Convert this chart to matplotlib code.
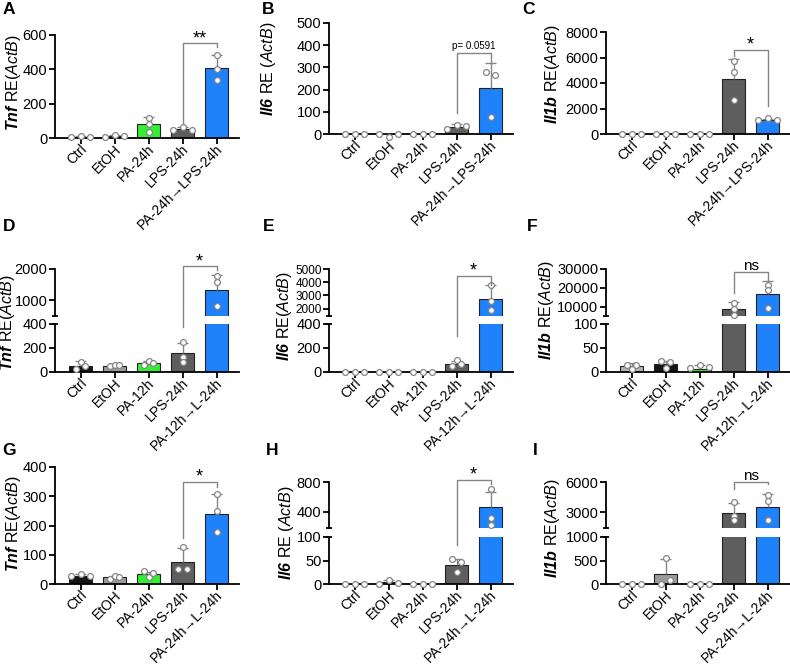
import numpy as np
import matplotlib
matplotlib.use('Agg')
import matplotlib.pyplot as plt
import matplotlib.transforms as mtransforms
from matplotlib.lines import Line2D

plt.rcParams['font.family'] = ['Liberation Sans', 'DejaVu Sans']
plt.rcParams['mathtext.fontset'] = 'custom'
plt.rcParams['mathtext.rm'] = 'Liberation Sans'
plt.rcParams['mathtext.it'] = 'Liberation Sans:italic'
plt.rcParams['mathtext.bf'] = 'Liberation Sans:bold'
plt.rcParams['mathtext.bfit'] = 'Liberation Sans:bold:italic'

W, H = 790, 665

# category labels
groups_24 = ['Ctrl', 'EtOH', 'PA-24h', 'LPS-24h', 'PA-24h→LPS-24h']
groups_12 = ['Ctrl', 'EtOH', 'PA-12h', 'LPS-24h', 'PA-12h→L-24h']
groups_24l = ['Ctrl', 'EtOH', 'PA-24h', 'LPS-24h', 'PA-24h→L-24h']

# A - Tnf, PA 24h
tnf_a_mean = [7, 12, 80, 50, 406]
tnf_a_sd = [2, 4, 40, 15, 75]
tnf_a_pts = [[6, 9, 7], [8, 18, 9], [116, 81, 37], [45, 62, 45], [482, 402, 335]]
# B - Il6, PA 24h
il6_b_mean = [0.5, 0.5, 0.5, 33, 205]
il6_b_sd = [0.3, 0.5, 0.3, 12, 115]
il6_b_pts = [[0, 0, 0], [0, -14, 0], [0, 0, 0], [23, 40, 38], [278, 75, 267]]
# C - Il1b, PA 24h
il1b_c_mean = [2, 2, 2, 4350, 1120]
il1b_c_sd = [1, 1, 1, 1550, 80]
il1b_c_pts = [[0, 0, 0], [0, 0, 0], [0, 0, 0], [5700, 4900, 2700], [1070, 1230, 1070]]
# D - Tnf, PA 12h
tnf_d_mean = [50, 52, 75, 155, 1340]
tnf_d_sd = [40, 14, 20, 86, 480]
tnf_d_pts = [[25, 85, 50], [48, 62, 57], [57, 90, 77], [252, 128, 85], [1770, 1575, 810]]
# E - Il6, PA 12h
il6_e_mean = [1, 1, 1, 68, 2700]
il6_e_sd = [0.5, 0.5, 0.5, 22, 1100]
il6_e_pts = [[0, 0, 0], [0, 0, 0], [0, 0, 0], [48, 99, 68], [3825, 2575, 1900]]
# F - Il1b, PA 12h
il1b_f_mean = [12, 16, 7, 8600, 16800]
il1b_f_sd = [6, 7, 7, 3860, 6700]
il1b_f_pts = [[14, 7, 14], [23, 8.5, 20.6], [8.5, 14, 10], [12100, 8600, 5400], [21400, 18800, 9500]]
# G - Tnf, PA 24h then LPS
tnf_g_mean = [29, 24, 34, 75, 239]
tnf_g_sd = [5, 5, 6, 47, 68]
tnf_g_pts = [[26, 35, 26], [17, 29, 25], [45, 23, 37], [51, 128, 51], [307, 250, 177]]
# H - Il6, PA 24h then LPS
il6_h_mean = [0.3, 4, 0.3, 40, 460]
il6_h_sd = [0.2, 4, 0.2, 14, 210]
il6_h_pts = [[0, 0, 0], [0, 9, 2], [0, 0, 0], [54, 25, 47], [710, 310, 220]]
# I - Il1b, PA 24h then LPS
il1b_i_mean = [5, 220, 3, 2900, 3550]
il1b_i_sd = [5, 305, 2, 980, 1300]
il1b_i_pts = [[0, 10, 5], [0, 560, 92], [0, 0, 0], [3980, 2576, 2152], [4700, 4110, 2185]]

BLACK, GRAY, LGRAY = '#141414', '#9b9b9b', '#b3b3b3'
GREEN, DGRAY, BLUE = '#33ee33', '#5e5e5e', '#1f82fb'
EC = '#858585'
cols = [BLACK, GRAY, GREEN, DGRAY, BLUE]
cols_f = [LGRAY, BLACK, GREEN, DGRAY, BLUE]

panels = [
    dict(letter='A', lpos=(3, 2), gene='Tnf', sp=False, lab=(14, 82), groups=groups_24,
         mean=tnf_a_mean, sd=tnf_a_sd, pts=tnf_a_pts, colors=cols, x0=55,
         segs=[((35, 138), (0, 600), [0, 200, 400, 600])], spread=[2, 2, 0, 2, 0],
         br=(551, 87, 532, '**', 13, 0)),
    dict(letter='B', lpos=(262, 2), gene='Il6', sp=True, lab=(269, 69), groups=groups_24,
         mean=il6_b_mean, sd=il6_b_sd, pts=il6_b_pts, colors=cols, x0=329,
         segs=[((23, 134), (0, 500), [0, 100, 200, 300, 400, 500])], spread=[2, 2, 2, 2, 1],
         br=(365, 95, 320, 'p= 0.0591', 7, 4)),
    dict(letter='C', lpos=(522, 2), gene='Il1b', sp=False, lab=(552, 74), groups=groups_24,
         mean=il1b_c_mean, sd=il1b_c_sd, pts=il1b_c_pts, colors=cols, x0=606,
         segs=[((32, 134), (0, 8000), [0, 2000, 4000, 6000, 8000])], spread=[2, 2, 2, 0, 2],
         br=(6615, 6090, 2170, '*', 13, 0)),
    dict(letter='D', lpos=(3, 219), gene='Tnf', sp=False, lab=(8, 322), groups=groups_12,
         mean=tnf_d_mean, sd=tnf_d_sd, pts=tnf_d_pts, colors=cols, x0=55,
         segs=[((324, 372), (0, 400), [0, 200, 400]), ((269, 316), (500, 2000), [1000, 2000])],
         spread=[1, 1, 1, 0, 0], br=(2085, 374, 1960, '*', 13, 0)),
    dict(letter='E', lpos=(263, 219), gene='Il6', sp=False, lab=(284, 316), groups=groups_12,
         mean=il6_e_mean, sd=il6_e_sd, pts=il6_e_pts, colors=cols, x0=329,
         segs=[((324, 372), (0, 400), [0, 200, 400]), ((269, 316), (1450, 5000), [2000, 3000, 4000, 5000])],
         spread=[2, 2, 2, 1, 0], br=(4500, 303, 3825, '*', 13, 0), small_upper=True),
    dict(letter='F', lpos=(527, 219), gene='Il1b', sp=False, lab=(546, 310), groups=groups_12,
         mean=il1b_f_mean, sd=il1b_f_sd, pts=il1b_f_pts, colors=cols_f, x0=606,
         segs=[((324, 372), (0, 100), [0, 50, 100]), ((269, 316), (5000, 30000), [10000, 20000, 30000])],
         spread=[1, 1, 2, 0, 0], br=(28400, 17000, 23500, 'ns', 11, 2)),
    dict(letter='G', lpos=(2, 443), gene='Tnf', sp=False, lab=(14, 523), groups=groups_24l,
         mean=tnf_g_mean, sd=tnf_g_sd, pts=tnf_g_pts, colors=cols, x0=55,
         segs=[((467, 584), (0, 400), [0, 100, 200, 300, 400])], spread=[2, 1, 1, 1, 0],
         br=(349, 156, 332, '*', 13, 0)),
    dict(letter='H', lpos=(266, 443), gene='Il6', sp=True, lab=(287, 533), groups=groups_24l,
         mean=il6_h_mean, sd=il6_h_sd, pts=il6_h_pts, colors=cols, x0=329,
         segs=[((537, 584), (0, 100), [0, 50, 100]), ((482, 528), (180, 800), [400, 800])],
         spread=[2, 2, 2, 1, 0], br=(831, 82, 778, '*', 13, 0)),
    dict(letter='I', lpos=(533, 443), gene='Il1b', sp=False, lab=(552, 528), groups=groups_24l,
         mean=il1b_i_mean, sd=il1b_i_sd, pts=il1b_i_pts, colors=cols, x0=606,
         segs=[((537, 584), (0, 1000), [0, 500, 1000]), ((482, 528), (1400, 6000), [3000, 6000])],
         spread=[2, 1, 2, 0, 0], br=(6000, 5350, 5840, 'ns', 11, 2)),
]

fig = plt.figure(figsize=(W / 100, H / 100), dpi=100)
AXW = 184
XLIM = (-0.75, 4.66)
x = np.arange(5)
OFF = {0: [0, 0, 0], 1: [-0.13, 0, 0.13], 2: [-0.27, 0, 0.27]}
# small rightward shift of the rotated category labels, in inches
label_shift = mtransforms.ScaledTranslation(4 / 100, 0, fig.dpi_scale_trans)


def add_ax(x0, ytop, ybot):
    return fig.add_axes([x0 / W, 1 - ybot / H, AXW / W, (ybot - ytop) / H])


for p in panels:
    axes = []
    n = len(p['segs'])
    for i, ((yt, yb), lim, ticks) in enumerate(p['segs']):
        ax = add_ax(p['x0'], yt, yb)
        ax.set_xlim(*XLIM)
        ax.set_ylim(*lim)
        ax.set_yticks(ticks)
        ax.set_yticklabels([str(t) for t in ticks])
        for s in ['top', 'right']:
            ax.spines[s].set_visible(False)
        ax.spines['left'].set_linewidth(1.3)
        ax.spines['bottom'].set_linewidth(1.3)
        ax.tick_params(axis='y', length=4, width=1.3, labelsize=10.5, pad=1.5)
        ax.tick_params(axis='x', length=4, width=1.3, labelsize=10, pad=2.5)
        ax.patch.set_alpha(0)
        if i == 0:
            ax.set_xticks(x)
            ax.set_xticklabels(p['groups'], rotation=45, ha='right', va='center',
                               rotation_mode='anchor')
            for t in ax.get_xticklabels():
                t.set_transform(t.get_transform() + label_shift)
        else:
            ax.spines['bottom'].set_visible(False)
            ax.set_xticks([])
            if p.get('small_upper'):
                ax.tick_params(axis='y', labelsize=8.5, pad=1)
        if n > 1:
            yb_mark = 1 if i == 0 else 0
            ax.plot([-0.018, 0.018], [yb_mark, yb_mark], transform=ax.transAxes,
                    color='black', lw=1.3, clip_on=False, solid_capstyle='butt')
        lo, hi = lim
        ax.bar(x, p['mean'], width=0.68, color=p['colors'], edgecolor='#222222',
               linewidth=0.8, zorder=2)
        tops = np.array(p['mean']) + np.array(p['sd'])
        ax.vlines(x, p['mean'], tops, color=EC, lw=1, zorder=3)
        ax.hlines(tops, x - 0.17, x + 0.17, color=EC, lw=1, zorder=3)
        px, py = [], []
        for j in range(5):
            for k, v in enumerate(p['pts'][j]):
                if i == 0:
                    inside = v <= hi * 1.01
                else:
                    inside = v >= lo
                if inside:
                    px.append(x[j] + OFF[p['spread'][j]][k])
                    py.append(v)
        ax.plot(px, py, 'o', ms=4.2, mfc='white', mec=EC, mew=0.9, ls='none',
                clip_on=False, zorder=6)
        axes.append(ax)
    p['axes'] = axes

    # y label
    if p['sp']:
        lab = r'$\mathbfit{%s}$ RE$\ $($\mathit{ActB}$)' % p['gene']
    else:
        lab = r'$\mathbfit{%s}$ RE($\mathit{ActB}$)' % p['gene']
    fig.text(p['lab'][0] / W, 1 - p['lab'][1] / H, lab, rotation=90, ha='center',
             va='center', fontsize=11.5)
    # panel letter
    fig.text(p['lpos'][0] / W, 1 - p['lpos'][1] / H, p['letter'], fontsize=12.5,
             fontweight='bold', ha='left', va='top')

    # significance bracket
    def to_fig(xv, yv, p=p):
        ax = p['axes'][0]
        if len(p['axes']) > 1 and yv >= p['segs'][1][1][0]:
            ax = p['axes'][1]
        d = ax.transData.transform((xv, yv))
        return fig.transFigure.inverted().transform(d)

    ytop, yl, yr, txt, fs, off = p['br']
    pts = [to_fig(3, yl), to_fig(3, ytop), to_fig(4, ytop), to_fig(4, yr)]
    fig.add_artist(Line2D([q[0] for q in pts], [q[1] for q in pts], color=EC, lw=1,
                          transform=fig.transFigure))
    mid = (pts[1][0] + pts[2][0]) / 2
    fig.text(mid, pts[1][1] + off / H, txt, ha='center', va='baseline', fontsize=fs)

fig.savefig('out.png', dpi=100)
